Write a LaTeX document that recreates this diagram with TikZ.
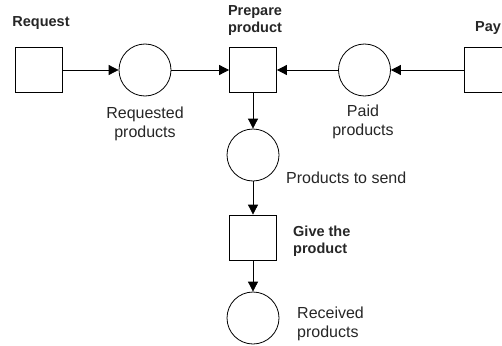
\documentclass[tikz,border=0pt]{standalone}
\usepackage{fontspec}
\setmainfont{Liberation Sans}
\usetikzlibrary{arrows.meta}
\begin{document}
\begin{tikzpicture}[x=1pt,y=-1pt,
  trans/.style={draw,line width=0.8pt,minimum width=47pt,minimum height=45pt,inner sep=0pt},
  place/.style={draw,circle,line width=0.8pt,minimum size=52pt,inner sep=0pt},
  arc/.style={line width=0.8pt,-{Triangle[length=10pt,width=10pt]}},
  lbl/.style={font=\fontsize{16}{18.5}\selectfont,text=black!85,align=center,inner sep=0pt},
  blbl/.style={font=\fontsize{14.5}{17}\selectfont\bfseries,text=black!85,align=center,inner sep=0pt}]
\useasboundingbox (0,0) rectangle (502,345);

% places and transitions
\node[trans] (req)  at (39,70) {};
\node[place] (rp)   at (145,70) {};
\node[trans] (prep) at (253,70) {};
\node[place] (pp)   at (364.5,70) {};
\node[trans] (pay)  at (487.5,70) {};
\node[place] (ps)   at (253,155) {};
\node[trans] (give) at (253,237.5) {};
\node[place] (rcv)  at (253,318) {};

% labels
\node[blbl] (reqL) at (41,23) {Request};
\node[blbl] (prepL) at (255,21) {Prepare\\product};
\node[blbl,anchor=west] (payL) at (475,28) {Pay};
\node[lbl] (rpL) at (145,124) {Requested\\products};
\node[lbl] (ppL) at (363,122) {Paid\\products};
\node[lbl,anchor=west] (psL) at (286,178) {Products to send};
\node[blbl,align=left,anchor=west] (giveL) at (293,241) {Give the\\product};
\node[lbl,align=left,anchor=west] (rcvL) at (297,324) {Received\\products};

% arcs
\draw[arc] (req) -- (rp);
\draw[arc] (rp) -- (prep);
\draw[arc] (pp) -- (prep);
\draw[arc] (pay) -- (pp);
\draw[arc] (prep) -- (ps);
\draw[arc] (ps) -- (give);
\draw[arc] (give) -- (rcv);
\end{tikzpicture}
\end{document}
